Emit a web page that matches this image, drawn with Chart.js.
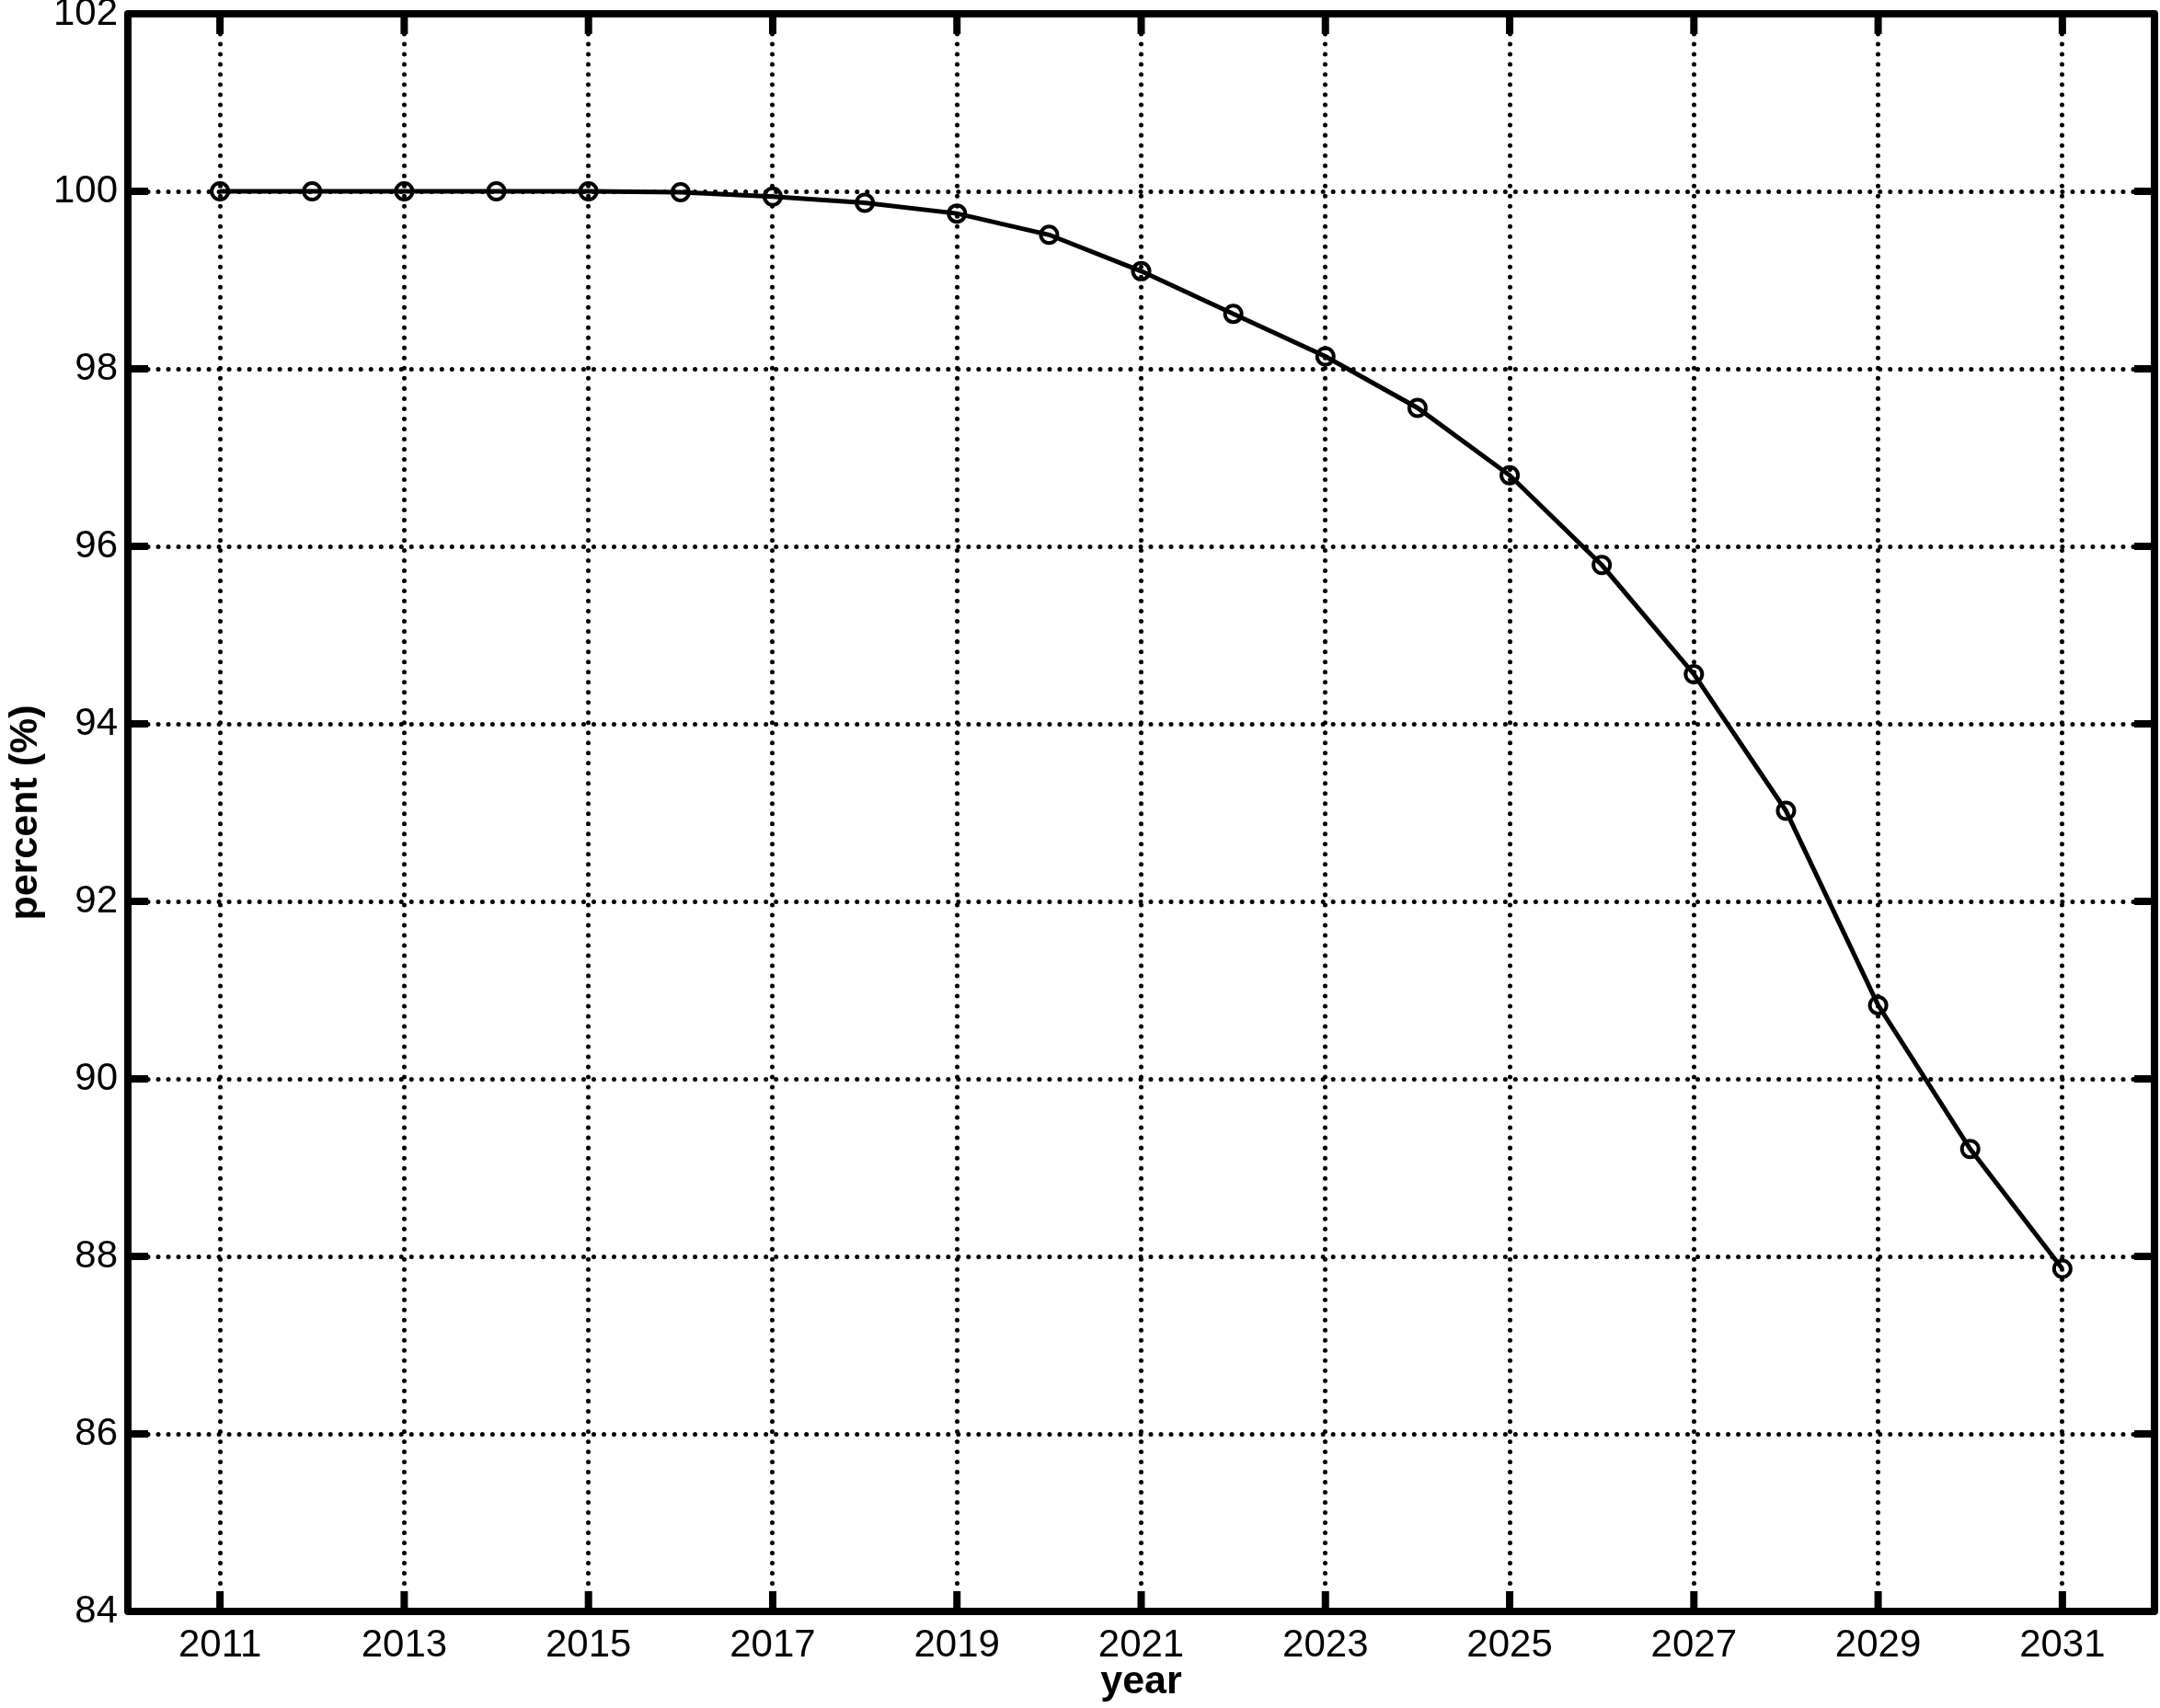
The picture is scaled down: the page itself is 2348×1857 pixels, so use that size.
<!DOCTYPE html>
<html>
<head>
<meta charset="utf-8">
<script src="https://cdn.jsdelivr.net/npm/chart.js@4.4.1/dist/chart.umd.min.js"></script>
<style>
  html, body { margin: 0; padding: 0; background: #fff; }
  canvas { display: block; }
</style>
</head>
<body>
<canvas id="chart" width="2348" height="1857"></canvas>
<script>
const years = [2011, 2012, 2013, 2014, 2015, 2016, 2017, 2018, 2019, 2020, 2021,
  2022, 2023, 2024, 2025, 2026, 2027, 2028, 2029, 2030, 2031];
const percent = [100, 100, 100, 100, 100, 99.99, 99.94, 99.87, 99.75, 99.51, 99.10,
  98.62, 98.14, 97.56, 96.80, 95.79, 94.56, 93.02, 90.83, 89.21, 87.86];
const xTickYears = [2011, 2013, 2015, 2017, 2019, 2021, 2023, 2025, 2027, 2029, 2031];

Chart.defaults.font.family = '"Liberation Sans", Arial, Helvetica, sans-serif';
Chart.defaults.color = "#000";

// matlab style box with inward ticks on all four sides
const boxPlugin = {
  id: "boxPlugin",
  beforeDraw(chart) {
    chart.ctx.lineCap = "round";
  },
  afterDatasetsDraw(chart) {
    const { ctx, chartArea: a, scales } = chart;
    const x = scales.x, y = scales.y;
    ctx.save();
    ctx.strokeStyle = "#000";
    ctx.lineCap = "butt";
    ctx.lineWidth = 8;
    ctx.beginPath();
    x.ticks.forEach(t => {
      const px = x.getPixelForValue(t.value);
      ctx.moveTo(px, a.bottom); ctx.lineTo(px, a.bottom - 22);
      ctx.moveTo(px, a.top); ctx.lineTo(px, a.top + 22);
    });
    y.ticks.forEach(t => {
      const py = y.getPixelForValue(t.value);
      ctx.moveTo(a.left, py); ctx.lineTo(a.left + 22, py);
      ctx.moveTo(a.right, py); ctx.lineTo(a.right - 22, py);
    });
    ctx.stroke();
    ctx.lineJoin = "round";
    ctx.strokeRect(a.left, a.top, a.right - a.left, a.bottom - a.top);
    ctx.restore();
  }
};

new Chart(document.getElementById("chart"), {
  type: "line",
  data: {
    datasets: [{
      data: years.map((yr, i) => ({ x: yr, y: percent[i] })),
      borderColor: "#000",
      borderWidth: 5,
      tension: 0,
      pointStyle: "circle",
      pointRadius: 9,
      pointBorderWidth: 4,
      pointBorderColor: "#000",
      pointBackgroundColor: "rgba(0,0,0,0)"
    }]
  },
  options: {
    responsive: false,
    animation: false,
    events: [],
    layout: { autoPadding: false, padding: { top: 15, right: 6, left: 0, bottom: 0 } },
    plugins: { legend: { display: false }, tooltip: { enabled: false } },
    scales: {
      x: {
        type: "linear",
        min: 2010,
        max: 2032,
        afterBuildTicks: scale => {
          scale.ticks = xTickYears.map(v => ({ value: v }));
        },
        afterFit: scale => {
          scale.height = 105;
          scale.paddingLeft = 0;
          scale.paddingRight = 0;
        },
        ticks: {
          autoSkip: false,
          maxRotation: 0,
          padding: 12,
          font: { size: 42 },
          callback: v => String(v)
        },
        grid: { color: "#000", lineWidth: 5, drawTicks: false },
        border: { display: false, dash: [0.01, 11] },
        title: {
          display: true,
          text: "year",
          font: { size: 43, weight: "bold" },
          padding: { top: 0, bottom: 2 }
        }
      },
      y: {
        min: 84,
        max: 102,
        afterFit: scale => {
          scale.width = 139;
          scale.paddingTop = 0;
          scale.paddingBottom = 0;
        },
        ticks: {
          stepSize: 2,
          padding: 11,
          font: { size: 42 }
        },
        grid: { color: "#000", lineWidth: 5, drawTicks: false },
        border: { display: false, dash: [0.01, 11] },
        title: {
          display: true,
          text: "percent (%)",
          font: { size: 43, weight: "bold" },
          padding: { top: 2, bottom: 0 }
        }
      }
    }
  },
  plugins: [boxPlugin]
});
</script>
</body>
</html>
